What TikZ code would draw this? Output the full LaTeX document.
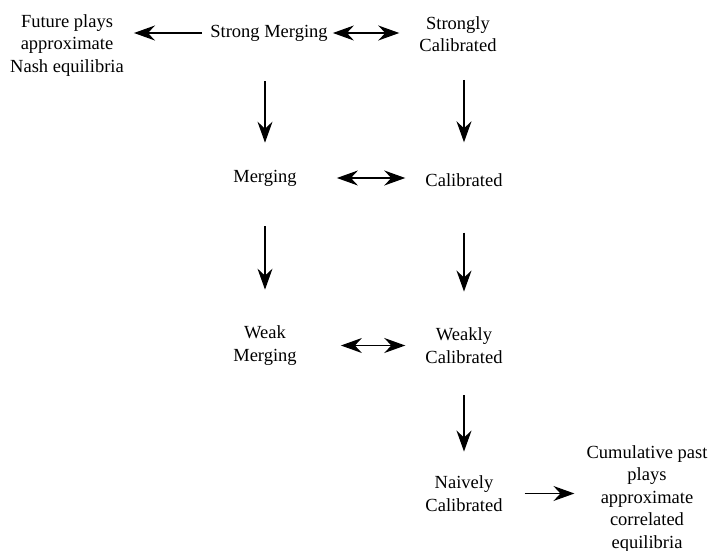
\documentclass[tikz,border=0pt]{standalone}
\usepackage{fontspec}
\setmainfont{Liberation Serif}
\usetikzlibrary{arrows.meta}

\begin{document}
\begin{tikzpicture}
 [x=1pt,y=-1pt,
   every node/.style={align=center,inner sep=0pt,font=\fontsize{18.5}{22.5}\selectfont},
   arr/.style={-{Stealth[length=21pt,width=15pt,inset=7pt]},line width=1.2pt},
   dbl/.style={{Stealth[length=21pt,width=15pt,inset=7pt]}-{Stealth[length=21pt,width=15pt,inset=7pt]},line width=1.2pt}]
  \useasboundingbox (0,0) rectangle (712,551);
  % left column
  \node (fut) at (67,45.5) {Future plays\\approximate\\Nash equilibria};
  \node (sm) at (269,33) {Strong Merging};
  \node (mg) at (265,178) {Merging};
  \node (wm) at (265,345.5) {Weak\\Merging};
  % right column
  \node (sc) at (458,34) {Strongly\\Calibrated};
  \node (cal) at (464,180) {Calibrated};
  \node (wc) at (464,345.5) {Weakly\\Calibrated};
  \node (nc) at (464,493.5) {Naively\\Calibrated};
  \node (cum) at (647,499) {Cumulative past\\plays\\approximate\\correlated\\equilibria};
  % horizontal arrows
  \draw[arr,shorten <=8pt,shorten >=10pt] (sm.west) -- (sm.west -| fut.east);
  \draw[dbl,shorten <=5pt,shorten >=20pt] (sm.east) -- (sm.east -| sc.west);
  \draw[dbl,shorten <=40pt,shorten >=20pt] (mg.east) -- (mg.east -| cal.west);
  \draw[dbl,shorten <=44pt,shorten >=20pt] (wm.east) -- (wm.east -| wc.west);
  \draw[arr,shorten <=22pt,shorten >=12pt] (nc.east) -- (nc.east -| cum.west);
  % vertical arrows
  \draw[arr,shorten <=40pt,shorten >=27pt] (sm.south -| mg) -- (mg.north);
  \draw[arr,shorten <=40pt,shorten >=36pt] (mg.south) -- (wm.north);
  \draw[arr,shorten <=28pt,shorten >=31pt] (sc.south -| cal) -- (cal.north);
  \draw[arr,shorten <=46pt,shorten >=36pt] (cal.south) -- (wc.north);
  \draw[arr,shorten <=32pt,shorten >=24pt] (wc.south) -- (nc.north);
\end{tikzpicture}
\end{document}
